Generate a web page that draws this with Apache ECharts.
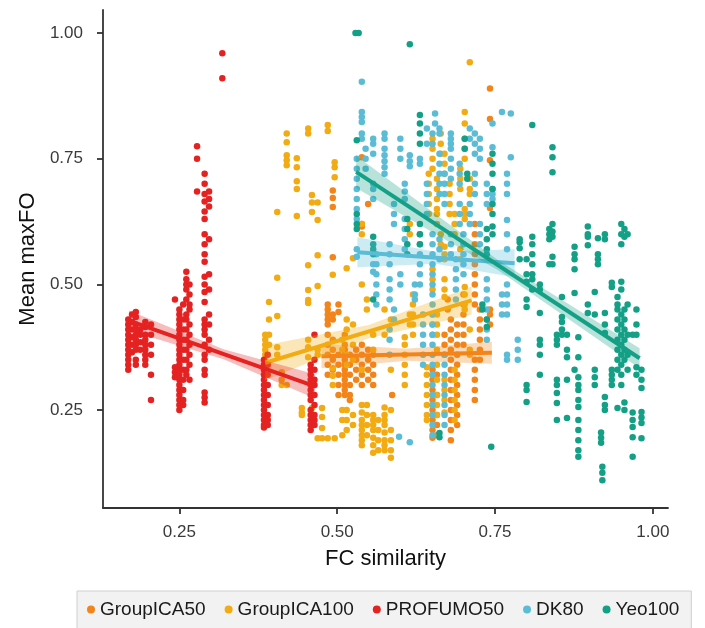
<!DOCTYPE html>
<html><head><meta charset="utf-8">
<script src="https://cdn.jsdelivr.net/npm/echarts@6/dist/echarts.min.js"></script>
<style>html,body{margin:0;padding:0;background:#fff}#c{width:705px;height:628px}</style>
</head><body><div id="c"></div><script>
const seriesNames = ['GroupICA50', 'GroupICA100', 'PROFUMO50', 'DK80', 'Yeo100'];
const seriesColors = ['#F3841A', '#F2AB12', '#E52222', '#5BBCD6', '#14A086'];
const tickValues = [0.25, 0.5, 0.75, 1.0];

// columns of points: [FC similarity, [Mean maxFO values...]]
const groupICA50Cols = [
 [0.485, [0.46,0.45,0.44,0.43,0.42,0.40,0.38,0.36,0.34,0.32]],
 [0.493, [0.687,0.672,0.654,0.554,0.44,0.43,0.39,0.37,0.35,0.33]],
 [0.502, [0.46,0.445,0.36,0.34,0.32,0.30,0.28]],
 [0.512, [0.40,0.38,0.37,0.36,0.35,0.34,0.33,0.32,0.31,0.30,0.29,0.28]],
 [0.520, [0.36,0.34,0.32,0.30,0.28,0.27]],
 [0.530, [0.37,0.35,0.33,0.31]],
 [0.539, [0.753,0.62,0.615,0.38,0.36,0.34,0.32,0.30]],
 [0.549, [0.66,0.37,0.35,0.33,0.31]],
 [0.557, [0.36,0.34,0.32,0.30]],
 [0.587, [0.28]],
 [0.651, [0.33,0.31,0.29,0.27,0.25,0.23,0.21,0.195]],
 [0.658, [0.32,0.28,0.24,0.22,0.20]],
 [0.670, [0.40,0.38,0.36]],
 [0.675, [0.47,0.45]],
 [0.680, [0.43,0.41,0.39,0.37,0.35,0.33,0.31,0.29,0.27,0.25,0.23,0.21,0.19]],
 [0.690, [0.42,0.40,0.38,0.36,0.34,0.32,0.30,0.28,0.26,0.24,0.22]],
 [0.700, [0.48,0.46,0.44,0.42,0.40,0.38]],
 [0.718, [0.62,0.60,0.58,0.56,0.54,0.52,0.50,0.48,0.46,0.35,0.33,0.31,0.29,0.27]],
 [0.726, [0.45,0.43,0.41,0.39,0.37,0.35]],
 [0.742, [0.89,0.829,0.747,0.652,0.45,0.44,0.42]]
];
const groupICA100Cols = [
 [0.386, [0.40,0.39,0.38,0.37,0.36,0.35]],
 [0.392, [0.465,0.43,0.40,0.38]],
 [0.405, [0.644,0.513,0.437,0.375,0.36]],
 [0.412, [0.325,0.31,0.30]],
 [0.420, [0.80,0.783,0.757,0.747,0.737,0.30]],
 [0.436, [0.751,0.733,0.705,0.69,0.636]],
 [0.444, [0.254,0.245,0.24]],
 [0.454, [0.81,0.80,0.538,0.489,0.469,0.463,0.39,0.375,0.355]],
 [0.460, [0.678,0.663,0.644,0.254]],
 [0.469, [0.663,0.628,0.558,0.497,0.37,0.36,0.194]],
 [0.476, [0.254,0.236,0.214,0.194]],
 [0.485, [0.817,0.805,0.194]],
 [0.493, [0.519,0.333,0.318,0.30]],
 [0.496, [0.743,0.733,0.713,0.194]],
 [0.508, [0.39,0.37,0.25,0.23,0.20]],
 [0.515, [0.532,0.43,0.41,0.36,0.34,0.25,0.23,0.21]],
 [0.525, [0.552,0.42,0.38,0.35,0.24,0.22]],
 [0.539, [0.62,0.60,0.50,0.33,0.26,0.245,0.23,0.22,0.21,0.20,0.19,0.18]],
 [0.547, [0.47,0.45,0.26,0.24,0.22,0.20]],
 [0.557, [0.40,0.37,0.24,0.23,0.22,0.21,0.195,0.18,0.165]],
 [0.565, [0.23,0.21,0.19,0.17]],
 [0.575, [0.45,0.40,0.255,0.24,0.23,0.22,0.205,0.19,0.18,0.17]],
 [0.585, [0.43,0.33,0.25,0.21,0.19,0.17,0.155]],
 [0.607, [0.395,0.38,0.36,0.34,0.32,0.30]],
 [0.615, [0.62,0.60,0.44,0.42]],
 [0.620, [0.48,0.46,0.44,0.42,0.40]],
 [0.642, [0.335,0.32,0.30,0.28,0.26,0.24,0.23]],
 [0.645, [0.72,0.70,0.68,0.66,0.64]],
 [0.651, [0.79,0.77,0.75,0.73,0.53,0.51,0.49,0.44,0.42,0.40]],
 [0.658, [0.71,0.69,0.67,0.65,0.64,0.62,0.44,0.42,0.40,0.37,0.34,0.31,0.28,0.26,0.24]],
 [0.664, [0.80,0.78,0.76,0.60,0.58]],
 [0.670, [0.76,0.74,0.72,0.575,0.56,0.55,0.51,0.49,0.475,0.31,0.29,0.27,0.245]],
 [0.678, [0.70,0.68,0.66,0.64]],
 [0.686, [0.64,0.62,0.60,0.33,0.31,0.29,0.27,0.25,0.23]],
 [0.695, [0.73,0.71,0.69,0.57,0.55]],
 [0.702, [0.843,0.82,0.79,0.77,0.75,0.65,0.64,0.63,0.495,0.48,0.46,0.45]],
 [0.710, [0.942,0.71,0.69,0.68,0.41,0.37,0.36]]
];
const profumo50Cols = [
 [0.169, [0.43,0.42,0.41,0.40,0.39,0.38,0.37,0.36,0.35,0.34,0.33]],
 [0.175, [0.44,0.425,0.41,0.395,0.38,0.365]],
 [0.181, [0.445,0.435,0.42,0.41,0.40,0.39,0.38,0.37,0.35,0.34]],
 [0.188, [0.41,0.40,0.385,0.37]],
 [0.196, [0.425,0.415,0.40,0.39,0.38,0.37,0.36,0.35,0.34]],
 [0.205, [0.42,0.40,0.38,0.36,0.32,0.27]],
 [0.243, [0.47,0.335,0.325,0.315]],
 [0.250, [0.45,0.44,0.43,0.42,0.41,0.40,0.39,0.38,0.37,0.36,0.35,0.34,0.33,0.32,0.31,0.30,0.29,0.28,0.27,0.26,0.25]],
 [0.256, [0.46,0.43,0.41,0.39,0.37,0.35,0.33,0.31,0.29,0.27,0.26]],
 [0.261, [0.525,0.51,0.50,0.49,0.47,0.44,0.43,0.41,0.39,0.37,0.35,0.33,0.32]],
 [0.266, [0.50,0.48,0.46,0.45,0.42,0.40,0.38,0.36,0.34,0.31]],
 [0.278, [0.775,0.75,0.685]],
 [0.290, [0.72,0.70,0.68,0.665,0.645,0.63,0.60,0.58,0.56,0.545,0.515,0.50,0.485,0.465,0.43,0.42,0.41,0.40,0.38,0.36,0.35,0.33,0.32,0.285,0.275,0.265]],
 [0.297, [0.685,0.67,0.655,0.59,0.52,0.49,0.44,0.42,0.39,0.37]],
 [0.318, [0.96,0.91]],
 [0.384, [0.35,0.34,0.33,0.32,0.31,0.30,0.29,0.28,0.27,0.26,0.25,0.24,0.23,0.22,0.215]],
 [0.390, [0.36,0.34,0.32,0.30,0.28,0.26,0.24,0.23,0.22]],
 [0.458, [0.34,0.33,0.32,0.31,0.30,0.29,0.28,0.27,0.25,0.24,0.23,0.22,0.21]],
 [0.464, [0.40,0.35,0.33,0.31,0.30,0.28,0.26,0.24,0.23,0.22]]
];
const dk80Cols = [
 [0.531, [0.75,0.73,0.71,0.69,0.67,0.65,0.63,0.57,0.555]],
 [0.539, [0.903,0.843,0.833,0.823,0.80,0.79]],
 [0.545, [0.77,0.75,0.73]],
 [0.557, [0.79,0.78,0.76,0.70,0.69,0.67,0.54,0.525]],
 [0.562, [0.56,0.54,0.52,0.50,0.48,0.46]],
 [0.575, [0.80,0.79,0.77,0.757,0.745,0.733,0.72]],
 [0.583, [0.58,0.56,0.54,0.51,0.49,0.47,0.41,0.39,0.36]],
 [0.590, [0.66,0.64,0.62,0.45,0.43]],
 [0.598, [0.197]],
 [0.600, [0.79,0.77,0.75,0.52,0.50]],
 [0.607, [0.70,0.685,0.67,0.63,0.61,0.59,0.57]],
 [0.615, [0.757,0.745,0.735,0.186]],
 [0.623, [0.50,0.48,0.47]],
 [0.631, [0.75,0.74,0.60,0.58,0.56,0.54,0.52,0.50]],
 [0.636, [0.44,0.42,0.40,0.38,0.36,0.34]],
 [0.642, [0.81,0.78,0.70,0.68,0.66,0.64]],
 [0.651, [0.80,0.78,0.60,0.58,0.56,0.54,0.52,0.50,0.48,0.46,0.44,0.42,0.40,0.38,0.36,0.34,0.32,0.30,0.28,0.26,0.24,0.22,0.20]],
 [0.655, [0.84,0.82]],
 [0.662, [0.81,0.80,0.76,0.74,0.72,0.70,0.68,0.59,0.57,0.55]],
 [0.670, [0.72,0.70,0.68,0.66,0.36,0.34,0.32,0.30,0.28,0.26,0.24,0.22]],
 [0.680, [0.80,0.79,0.78,0.77,0.75,0.73,0.71,0.60,0.58,0.56]],
 [0.688, [0.55,0.53,0.51,0.49,0.47]],
 [0.694, [0.74,0.72,0.70,0.66,0.64,0.62]],
 [0.700, [0.60,0.58,0.56,0.54,0.52]],
 [0.710, [0.81,0.79,0.66,0.64,0.62]],
 [0.718, [0.80,0.78,0.76,0.72,0.70,0.68]],
 [0.726, [0.79,0.77,0.75,0.62,0.60,0.58]],
 [0.737, [0.70,0.68,0.66,0.51,0.49,0.47,0.45,0.43,0.41,0.39]],
 [0.746, [0.82,0.773,0.69,0.68,0.67]],
 [0.761, [0.843,0.48,0.46,0.44]],
 [0.769, [0.72,0.70,0.68,0.628,0.60,0.57,0.50,0.48,0.46,0.44,0.36,0.35]],
 [0.775, [0.84,0.753]],
 [0.786, [0.39,0.37,0.35]]
];
const yeo100Cols = [
 [0.529, [1.00]], [0.534, [1.00]],
 [0.531, [0.787,0.64,0.62,0.61]],
 [0.557, [0.595,0.58,0.57,0.56,0.47]],
 [0.611, [0.63,0.61,0.58,0.56]],
 [0.615, [0.978]],
 [0.631, [0.837,0.82,0.80,0.78,0.62,0.60,0.58]],
 [0.662, [0.204,0.196]],
 [0.702, [0.79,0.77]],
 [0.706, [0.72,0.71]],
 [0.730, [0.46,0.45]],
 [0.737, [0.61,0.59,0.57,0.56,0.43,0.415]],
 [0.744, [0.177]],
 [0.746, [0.76,0.74,0.72,0.69,0.66,0.64,0.615,0.60]],
 [0.789, [0.59,0.584,0.572,0.55]],
 [0.800, [0.55,0.52,0.505,0.47,0.455,0.30,0.29,0.266]],
 [0.809, [0.817,0.595,0.58,0.56,0.54,0.52,0.51,0.49]],
 [0.821, [0.50,0.49,0.443,0.39,0.38,0.36,0.32]],
 [0.836, [0.61,0.60,0.59,0.54]],
 [0.841, [0.773,0.753,0.723,0.62,0.605,0.595,0.555,0.54]],
 [0.848, [0.40,0.39,0.38,0.31,0.30,0.284,0.264,0.23]],
 [0.856, [0.475,0.435,0.425,0.41,0.40]],
 [0.864, [0.40,0.37,0.355,0.31,0.234]],
 [0.876, [0.575,0.56,0.55,0.53,0.483,0.33]],
 [0.882, [0.395,0.355,0.315,0.30,0.29,0.27,0.256,0.23,0.21,0.19,0.17,0.157]],
 [0.897, [0.615,0.60,0.595,0.578,0.46,0.443]],
 [0.908, [0.485,0.44,0.33,0.315,0.30]],
 [0.913, [0.592,0.56,0.55,0.54]],
 [0.918, [0.205,0.195,0.185]],
 [0.920, [0.137,0.125,0.11]],
 [0.924, [0.60,0.59,0.443,0.42,0.403,0.276,0.26,0.25]],
 [0.935, [0.503,0.495,0.33,0.32,0.31,0.30]],
 [0.944, [0.475,0.46,0.45,0.43,0.41,0.39,0.37,0.35,0.33,0.254]],
 [0.950, [0.62,0.60,0.58,0.505,0.49,0.44,0.42,0.40,0.38,0.36,0.34,0.32,0.30]],
 [0.955, [0.61,0.595,0.45,0.43,0.41,0.39,0.37,0.35,0.265,0.25]],
 [0.960, [0.60,0.46,0.40,0.36,0.33]],
 [0.968, [0.40,0.245,0.23,0.216,0.196,0.157]],
 [0.974, [0.45,0.42,0.40,0.335,0.32]],
 [0.982, [0.33,0.31,0.294,0.246,0.235,0.224,0.194]]
];

// fitted lines: [[x start, y start], [x end, y end]]
const fitLines = [
 [[0.475, 0.357], [0.745, 0.364]],
 [[0.386, 0.344], [0.713, 0.468]],
 [[0.170, 0.428], [0.465, 0.297]],
 [[0.532, 0.564], [0.781, 0.542]],
 [[0.530, 0.724], [0.979, 0.353]]
];
// confidence bands: [x, lower, upper]
const fitBands = [
 [[0.475, 0.333, 0.382], [0.610, 0.348, 0.372], [0.745, 0.342, 0.386]],
 [[0.386, 0.309, 0.379], [0.550, 0.393, 0.419], [0.713, 0.440, 0.496]],
 [[0.170, 0.408, 0.448], [0.320, 0.351, 0.371], [0.465, 0.273, 0.321]],
 [[0.532, 0.534, 0.594], [0.656, 0.541, 0.565], [0.781, 0.514, 0.570]],
 [[0.530, 0.692, 0.756], [0.755, 0.528, 0.548], [0.979, 0.333, 0.373]]
];

const allCols = [groupICA50Cols, groupICA100Cols, profumo50Cols, dk80Cols, yeo100Cols];
const toPoints = cols => cols.flatMap(([x, ys]) => ys.map(y => [x, y]));

const font = 'Liberation Sans, Arial, Helvetica, sans-serif';
const series = [];
seriesNames.forEach((name, i) => {
  series.push({
    type: 'scatter', name, data: toPoints(allCols[i]),
    symbolSize: 6.5, itemStyle: { color: seriesColors[i], opacity: 1 }, z: 2, silent: true
  });
});
seriesNames.forEach((name, i) => {
  const line = fitLines[i], band = fitBands[i], color = seriesColors[i];
  series.push({
    type: 'custom', name: 'fit-' + name, z: 3 + i, silent: true,
    data: [line[0]],
    renderItem(params, api) {
      const upper = band.map(b => api.coord([b[0], b[2]]));
      const lower = band.map(b => api.coord([b[0], b[1]])).reverse();
      return { type: 'group', children: [
        { type: 'polygon', shape: { points: upper.concat(lower) }, style: { fill: color, opacity: 0.3 } },
        { type: 'polyline', shape: { points: line.map(p => api.coord(p)) }, style: { stroke: color, lineWidth: 4, fill: null } }
      ]};
    }
  });
});

const axisCommon = {
  type: 'value',
  axisLine: { show: true, onZero: false, lineStyle: { color: '#333', width: 1.8 } },
  axisTick: { show: true, length: 6, customValues: tickValues, lineStyle: { color: '#333', width: 1.8 } },
  axisLabel: { customValues: tickValues, formatter: v => v.toFixed(2), color: '#3a3a3a', fontSize: 17, fontFamily: font },
  splitLine: { show: false },
  nameLocation: 'middle',
  nameTextStyle: { fontSize: 22, color: '#111', fontFamily: font }
};

const chart = echarts.init(document.getElementById('c'), null, { renderer: 'canvas' });
chart.setOption({
  animation: false,
  backgroundColor: '#fff',
  grid: { left: 103, right: 37, top: 10, bottom: 120 },
  xAxis: Object.assign({}, axisCommon, {
    min: 0.129, max: 1.024, name: 'FC similarity', nameGap: 40,
    axisLabel: Object.assign({}, axisCommon.axisLabel, { margin: 16 })
  }),
  yAxis: Object.assign({}, axisCommon, {
    min: 0.055, max: 1.046, name: 'Mean maxFO', nameGap: 63,
    axisLabel: Object.assign({}, axisCommon.axisLabel, { margin: 20 })
  }),
  legend: {
    data: seriesNames.map(n => ({ name: n, icon: 'circle' })),
    left: 77, top: 591, orient: 'horizontal',
    itemWidth: 8, itemHeight: 8, itemGap: 19,
    padding: [9, 12, 20, 10],
    backgroundColor: '#f2f2f2', borderColor: '#cfcfcf', borderWidth: 1,
    textStyle: { fontSize: 19, color: '#1a1a1a', fontFamily: font }
  },
  series
});
</script></body></html>
